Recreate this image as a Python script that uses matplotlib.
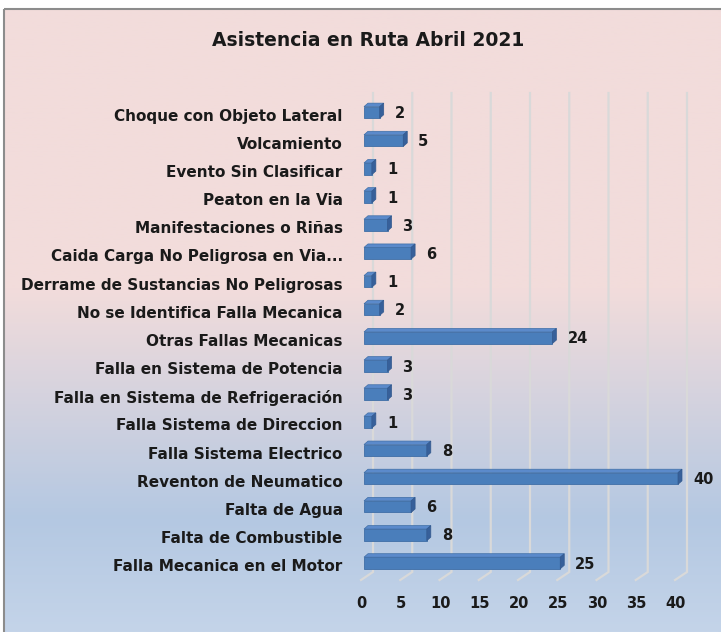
import numpy as np
import matplotlib
matplotlib.use("Agg")
import matplotlib.pyplot as plt
from matplotlib.colors import LinearSegmentedColormap
from matplotlib.patches import Polygon, Rectangle

# data (bottom to top, as drawn)
categories = [
    "Falla Mecanica en el Motor",
    "Falta de Combustible",
    "Falta de Agua",
    "Reventon de Neumatico",
    "Falla Sistema Electrico",
    "Falla Sistema de Direccion",
    "Falla en Sistema de Refrigeración",
    "Falla en Sistema de Potencia",
    "Otras Fallas Mecanicas",
    "No se Identifica Falla Mecanica",
    "Derrame de Sustancias No Peligrosas",
    "Caida Carga No Peligrosa en Via...",
    "Manifestaciones o Riñas",
    "Peaton en la Via",
    "Evento Sin Clasificar",
    "Volcamiento",
    "Choque con Objeto Lateral",
]
values = [25, 8, 6, 40, 8, 1, 3, 3, 24, 2, 1, 6, 3, 1, 1, 5, 2]
xticks = [0, 5, 10, 15, 20, 25, 30, 35, 40]

W, H = 721, 632
fig = plt.figure(figsize=(W / 100, H / 100), dpi=100)

# background gradient (pink top -> blue bottom) inside the chart box
bg = fig.add_axes([0, 0, 1, 1], zorder=-10)
bg.set_xlim(0, W)
bg.set_ylim(H, 0)
bg.axis("off")
cmap = LinearSegmentedColormap.from_list(
    "bg", [(0.0, "#F2DCDB"), (0.45, "#F2DCDB"), (0.82, "#B4C8E2"), (1.0, "#C4D4E9")])
grad = np.linspace(0, 1, 256).reshape(-1, 1)
bg.imshow(grad, cmap=cmap, aspect="auto", extent=[4, W, H, 9])
bg.add_patch(Rectangle((4, 9), W + 10, H + 10, fill=False, ec="#8C8C8C", lw=1.5))

# main axes: 1 unit = 7.85 px on x, 28.16 px per category on y
pxu, pyu = 7.85, 28.16
x0px, y0px = 364, 563
xmin, xmax = -2, 45
ymin, ymax = -1.5, 17
ax = fig.add_axes([(x0px + xmin * pxu) / W,
                   1 - (y0px - ymin * pyu) / H,
                   (xmax - xmin) * pxu / W,
                   (ymax - ymin) * pyu / H])
ax.set_xlim(xmin, xmax)
ax.set_ylim(ymin, ymax)
ax.patch.set_visible(False)
for s in ax.spines.values():
    s.set_visible(False)
ax.set_xticks([])

# gridlines on back wall + floor diagonal
gdx = 9 / pxu
gtop = (y0px - 93) / pyu
gbot = (y0px - 572) / pyu
fdx = -12 / pxu
fbot = (y0px - 580) / pyu
for t in xticks:
    ax.plot([t + gdx, t + gdx, t + gdx + fdx], [gtop, gbot, fbot],
            color="#D9D9D9", lw=1.6, zorder=1, solid_joinstyle="miter")
    ax.text(t - 0.3, (y0px - 603) / pyu, str(t), ha="center", va="center",
            fontsize=10.5, fontweight="bold", color="#1a1a1a")

# 3d-ish bars
h = 11.6 / pyu
ddx = 4 / pxu
ddy = 3.5 / pyu
y = np.arange(len(categories))
ax.barh(y, values, height=h, color="#4A7EBB", edgecolor="#3F6EA6", lw=0.6, zorder=3)
for yi, v in zip(y, values):
    top = Polygon([(0, yi + h / 2), (v, yi + h / 2), (v + ddx, yi + h / 2 + ddy),
                   (ddx, yi + h / 2 + ddy)], closed=True, fc="#5B8ACB", ec="#3F6EA6",
                  lw=0.5, zorder=3)
    side = Polygon([(v, yi - h / 2), (v + ddx, yi - h / 2 + ddy),
                    (v + ddx, yi + h / 2 + ddy), (v, yi + h / 2)], closed=True,
                   fc="#37609A", ec="#33598E", lw=0.5, zorder=3)
    ax.add_patch(top)
    ax.add_patch(side)
    ax.text(v + 15 / pxu, yi - 0.04, str(v), ha="left", va="center",
            fontsize=10.5, fontweight="bold", color="#1a1a1a")

ax.set_yticks(y - 0.08)
ax.set_yticklabels(categories, fontsize=11, fontweight="bold", color="#1a1a1a")
ax.tick_params(axis="y", length=0, pad=4)

fig.text(368 / W, 1 - 41 / H, "Asistencia en Ruta Abril 2021", ha="center", va="center",
         fontsize=13.5, fontweight="bold", color="#1a1a1a")

plt.savefig("out.png", dpi=100)
plt.close()
